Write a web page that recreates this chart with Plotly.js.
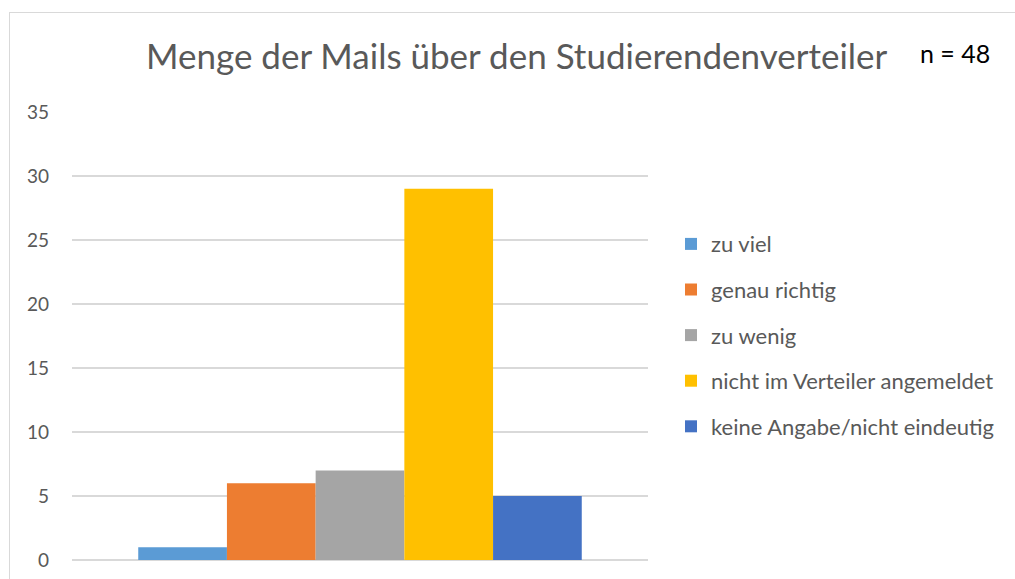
<!DOCTYPE html>
<html>
<head>
<meta charset="utf-8">
<script src="https://cdn.plot.ly/plotly-3.0.1.min.js"></script>
<style>
  html, body { margin: 0; padding: 0; background: #fff; }
  #wrap { position: relative; width: 1015px; height: 579px; overflow: hidden; }
  #chart { position: absolute; left: 0; top: 0; width: 1015px; height: 579px; }
  #frame { position: absolute; left: 9px; top: 12px; width: 1005px; height: 600px;
           border-left: 1.5px solid #d9d9d9; border-top: 1.5px solid #d9d9d9; pointer-events: none; }
</style>
</head>
<body>
<div id="wrap">
  <div id="chart"></div>
  <div id="frame"></div>
</div>
<script>
const seriesNames = ["zu viel", "genau richtig", "zu wenig", "nicht im Verteiler angemeldet", "keine Angabe/nicht eindeutig"];
const seriesValues = [1, 6, 7, 29, 5];
const seriesColors = ["#5B9BD5", "#ED7D31", "#A5A5A5", "#FFC000", "#4472C4"];
const category = [""];
const tickValues = [0, 5, 10, 15, 20, 25, 30, 35];
const chartTitle = "Menge der Mails über den Studierendenverteiler";
const sampleNote = "n = 48";

const FONT = "Lato, 'Noto Sans', sans-serif";

const traces = seriesNames.map((name, i) => ({
  type: "bar",
  name: name,
  x: category,
  y: [seriesValues[i]],
  marker: { color: seriesColors[i] },
  legendgroup: "g" + i,
  hoverinfo: "y+name"
}));

const layout = {
  width: 1015,
  height: 579,
  paper_bgcolor: "#ffffff",
  plot_bgcolor: "#ffffff",
  margin: { l: 72, r: 367, t: 112, b: 19, pad: 0, autoexpand: false },
  barmode: "group",
  bargap: 0.23,
  bargroupgap: 0,
  font: { family: FONT, color: "#595959" },
  title: {
    text: chartTitle,
    font: { family: FONT, size: 35, color: "#595959" },
    xref: "container", yref: "container",
    x: 0.509, xanchor: "center",
    y: 1 - 57 / 579, yanchor: "middle"
  },
  xaxis: {
    showticklabels: false,
    showgrid: false,
    zeroline: false,
    showline: false,
    ticks: ""
  },
  yaxis: {
    range: [0, 35],
    tickvals: tickValues,
    ticktext: tickValues.map(String),
    tickfont: { family: FONT, size: 19, color: "#595959" },
    showgrid: true,
    gridcolor: "#d9d9d9",
    gridwidth: 1.5,
    zeroline: true,
    zerolinecolor: "#d9d9d9",
    zerolinewidth: 1.5,
    showline: false,
    ticks: "",
    ticklabelstandoff: 22
  },
  showlegend: true,
  legend: {
    x: (671 - 72) / 576, xanchor: "left",
    y: 0.752, yanchor: "top",
    font: { family: FONT, size: 22, color: "#595959" },
    tracegroupgap: 14,
    itemwidth: 30,
    bgcolor: "rgba(0,0,0,0)",
    traceorder: "grouped"
  },
  annotations: [{
    text: sampleNote,
    xref: "paper", yref: "paper",
    x: (955 - 72) / 576, xanchor: "center",
    y: (560 - 53) / 448, yanchor: "middle",
    showarrow: false,
    font: { family: FONT, size: 25, color: "#000000" }
  }]
};

Plotly.newPlot("chart", traces, layout, { staticPlot: true, displayModeBar: false });
</script>
</body>
</html>
